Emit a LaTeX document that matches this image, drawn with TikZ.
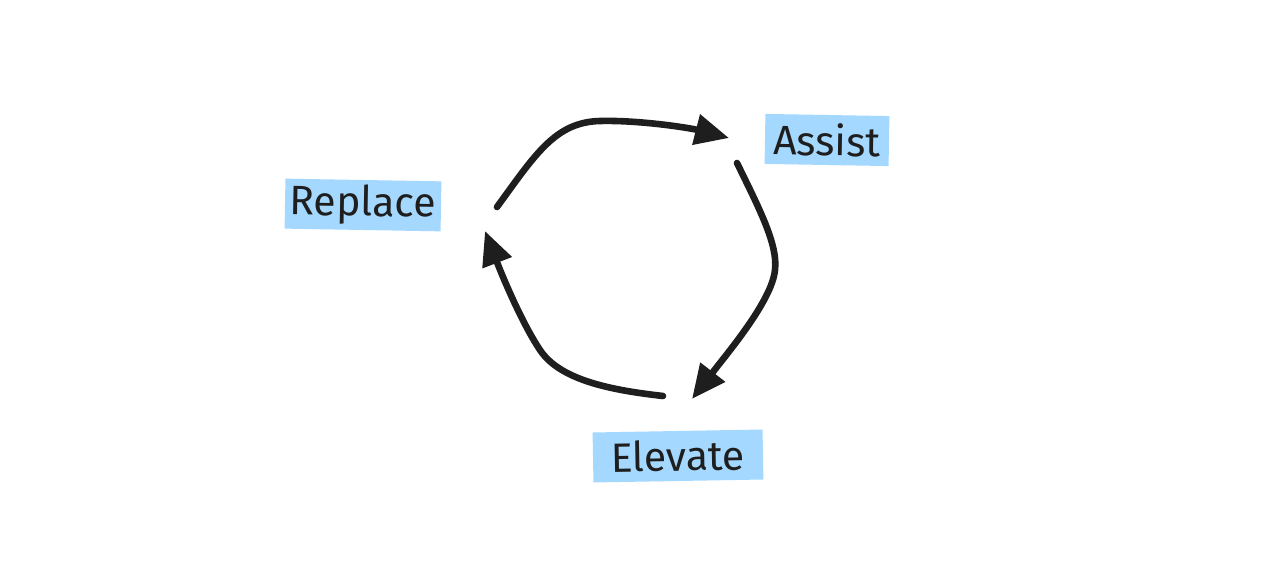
\documentclass[tikz,border=0pt]{standalone}
\usepackage{fontspec}
\setmainfont{Fira Sans}
\usepackage{xcolor}
\usetikzlibrary{arrows.meta}
\definecolor{hl-blue}{HTML}{A5D8FF}
\definecolor{ink}{HTML}{1E1E1E}

\begin{document}
\begin{tikzpicture}[x=0.5pt, y=-0.5pt,
    every node/.style={font=\fontsize{20.5}{24}\selectfont, text=ink},
    label/.style={fill=hl-blue, minimum height=25pt, inner sep=0pt},
    cycle arrow/.style={-{Triangle[length=17pt, width=15pt]}, line width=3.3pt,
      line cap=round, draw=ink}]
    \useasboundingbox[fill=white] (0,0) rectangle (1276,577);

    \node[label, minimum width=78pt, rotate=-1] (replace) at (363,205) {Replace};
    \node[label, minimum width=62pt, rotate=-1] (assist) at (827,140) {Assist};
    \node[label, minimum width=85pt, rotate=1] (elevate) at (678,456) {Elevate};

    \coordinate (replace-out) at (497,207);
    \coordinate (assist-in) at (729,138);
    \coordinate (assist-out) at (737,163);
    \coordinate (elevate-in) at (692,399);
    \coordinate (elevate-out) at (663,396);
    \coordinate (replace-in) at (485,231);

    \draw[cycle arrow] (replace-out) .. controls (535,155) and (555,122) .. (600,121)
      .. controls (640,120) and (690,128) .. (assist-in);
    \draw[cycle arrow] (assist-out) .. controls (760,210) and (778,245) .. (775,270)
      .. controls (772,300) and (730,350) .. (elevate-in);
    \draw[cycle arrow] (elevate-out) .. controls (610,390) and (560,380) .. (540,350)
      .. controls (520,320) and (500,270) .. (replace-in);
  \end{tikzpicture}
\end{document}
